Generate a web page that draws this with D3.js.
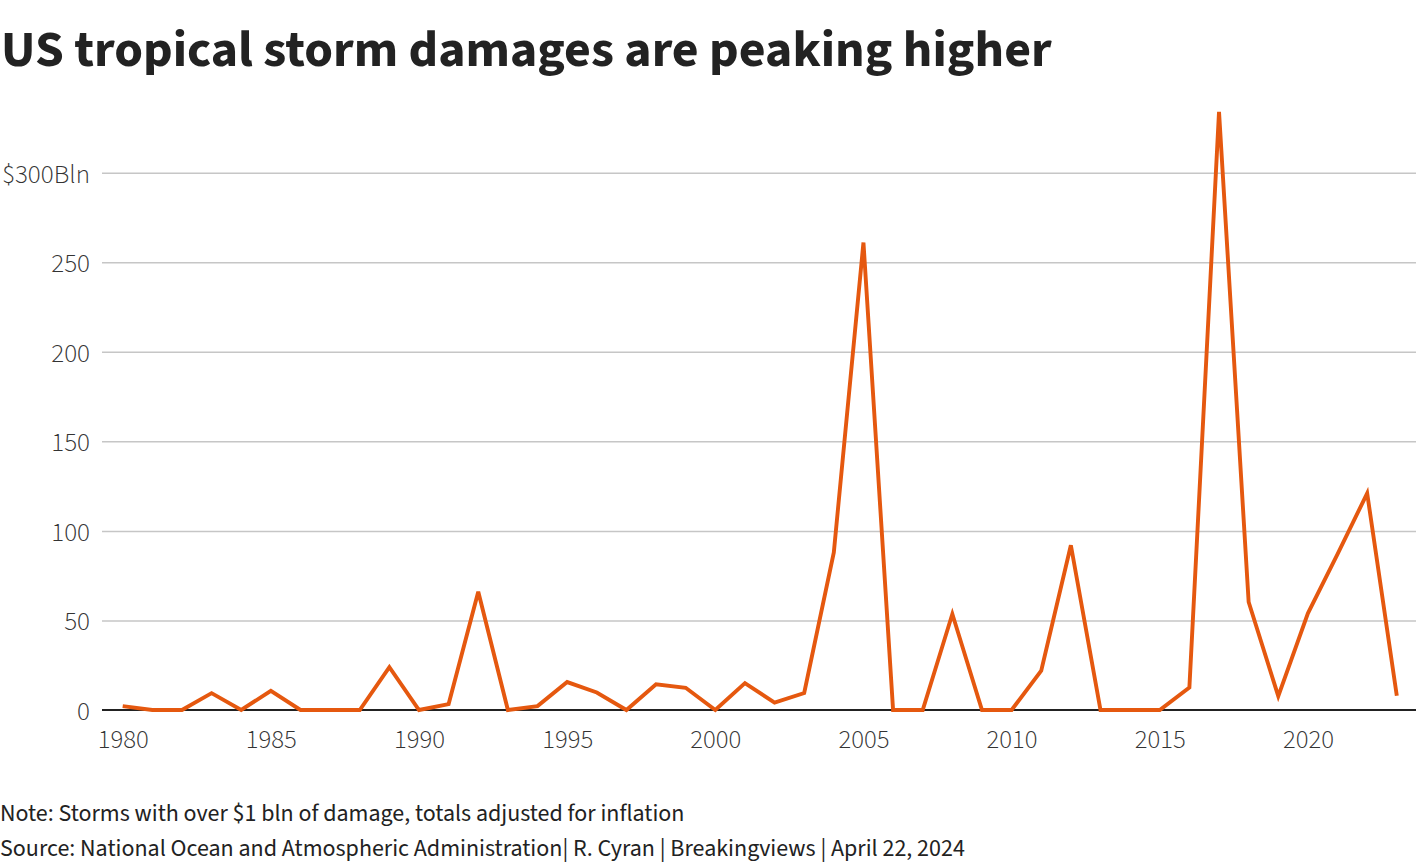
<!DOCTYPE html>
<html lang="en">
<head>
<meta charset="UTF-8">
<title>US tropical storm damages are peaking higher</title>
<script src="https://d3js.org/d3.v7.min.js"></script>
<style>
    body { margin: 0; background: #fff; }
    text { font-family: "Source Sans Pro", "Source Sans 3", Roboto, sans-serif; fill: #222; }
    .tick text { font-weight: 300; fill: #333; }
    .grid line { stroke: #c6c6c6; stroke-width: 1.5px; }
    .baseline { stroke: #222; stroke-width: 2px; }
    .series { fill: none; stroke: #e5580f; stroke-width: 3.9px; }
</style>
</head>
<body>
<svg width="1420" height="868"></svg>
<script>
    // Billions of dollars of damage per year
    const years = d3.range(1980, 2024);
    const damage = [
        2.2, 0, 0, 9.4, 0, 10.7, 0, 0, 0, 23.9,
        0, 3.3, 66, 0, 2.2, 15.6, 9.8, 0, 14.4, 12.4,
        0, 15, 4.1, 9.5, 88, 261, 0, 0, 53.6, 0,
        0, 21.9, 92, 0, 0, 0, 12.5, 334, 60.3, 7.7,
        54, 87, 121, 8
    ];
    const yTicks = [0, 50, 100, 150, 200, 250, 300];
    const xTicks = [1980, 1985, 1990, 1995, 2000, 2005, 2010, 2015, 2020];

    const svg = d3.select("svg");

    // shrink or grow a text's font size until it spans the given width
    function fitWidth(sel, w) {
        const len = sel.node().getComputedTextLength();
        const fs = parseFloat(sel.attr("font-size"));
        sel.attr("font-size", fs * w / len);
        return fs * w / len;
    }

    // Title
    const title = svg.append("text")
        .attr("x", 1).attr("y", 66)
        .attr("font-size", 48).attr("font-weight", 700)
        .text("US tropical storm damages are peaking higher");
    fitWidth(title, 1051);

    const gridLeft = 102, gridRight = 1416;

    const x = d3.scaleLinear().domain([1980, 2023]).range([122.7, 1396.8]);
    const y = d3.scaleLinear().domain([0, 300]).range([710, 172.7]);

    // y axis with gridlines
    const yAxis = svg.append("g")
        .attr("class", "grid")
        .attr("transform", `translate(${gridLeft},0)`)
        .call(d3.axisLeft(y)
            .tickValues(yTicks)
            .tickSize(-(gridRight - gridLeft))
            .tickPadding(12)
            .tickFormat(d => d === 300 ? "$300Bln" : d));
    yAxis.select(".domain").remove();
    yAxis.selectAll(".tick line").filter(d => d === 0).remove();
    const yText = yAxis.selectAll(".tick text")
        .attr("dy", null).attr("y", 9.5)
        .attr("font-size", 22).attr("font-family", null);
    const yfs = fitWidth(yText.filter(d => d === 300), 88);
    yText.attr("font-size", yfs);

    // x axis labels
    const xAxis = svg.append("g")
        .attr("transform", `translate(0,${y(0)})`)
        .call(d3.axisBottom(x).tickValues(xTicks).tickSize(0).tickFormat(d3.format("d")));
    xAxis.select(".domain").remove();
    const xText = xAxis.selectAll(".tick text")
        .attr("dy", null).attr("y", 38)
        .attr("font-size", 22).attr("font-family", null);
    const xfs = fitWidth(xText.filter(d => d === 1980), 51);
    xText.attr("font-size", xfs);

    // zero line
    svg.append("line")
        .attr("class", "baseline")
        .attr("x1", gridLeft).attr("x2", gridRight)
        .attr("y1", y(0)).attr("y2", y(0));

    // damages line
    const line = d3.line()
        .x((d, i) => x(years[i]))
        .y(d => y(d));

    svg.append("path")
        .datum(damage)
        .attr("class", "series")
        .attr("d", line);

    // Footnotes
    const note = svg.append("text")
        .attr("x", 0).attr("y", 821)
        .attr("font-size", 21)
        .text("Note: Storms with over $1 bln of damage, totals adjusted for inflation");
    fitWidth(note, 685);

    const source = svg.append("text")
        .attr("x", 0).attr("y", 856)
        .attr("font-size", 21)
        .text("Source: National Ocean and Atmospheric Administration| R. Cyran | Breakingviews | April 22, 2024");
    fitWidth(source, 965);
</script>
</body>
</html>
